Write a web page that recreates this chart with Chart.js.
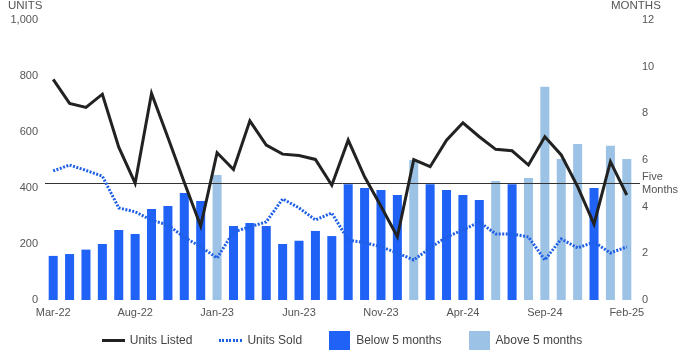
<!DOCTYPE html>
<html>
<head>
<meta charset="utf-8">
<script src="https://cdn.jsdelivr.net/npm/chart.js@4.4.1/dist/chart.umd.min.js"></script>
<style>
html,body{margin:0;padding:0;background:#fff;}
#wrap{position:relative;width:700px;height:350px;overflow:hidden;font-family:"Liberation Sans",Arial,sans-serif;}
#c{position:absolute;left:0;top:0;}
#legend{position:absolute;left:0;top:330px;width:684px;height:20px;display:flex;justify-content:center;align-items:center;font-size:12px;color:#444;white-space:nowrap;}
.item{display:flex;align-items:center;}
.item + .item{margin-left:27px;}
.ln{width:23px;height:3px;background:#222;margin-right:5px;}
.dot{width:23px;height:3px;margin-right:5px;background:repeating-linear-gradient(90deg,#1f5fe6 0 2px,transparent 2px 3.5px);}
.box{width:21px;height:19px;margin-right:6px;}
</style>
</head>
<body>
<div id="wrap">
<canvas id="c" width="700" height="350"></canvas>
<div id="legend"></div>
</div>
<script>
// ---- Data ----
const months = ['Mar-22','Apr-22','May-22','Jun-22','Jul-22','Aug-22','Sep-22','Oct-22','Nov-22','Dec-22',
  'Jan-23','Feb-23','Mar-23','Apr-23','May-23','Jun-23','Jul-23','Aug-23','Sep-23','Oct-23','Nov-23','Dec-23',
  'Jan-24','Feb-24','Mar-24','Apr-24','May-24','Jun-24','Jul-24','Aug-24','Sep-24','Oct-24','Nov-24','Dec-24',
  'Jan-25','Feb-25'];
const unitsListed = [788,702,688,735,546,417,738,580,420,264,526,466,640,553,521,516,502,410,571,440,335,226,
  501,476,571,633,583,538,533,482,583,518,405,271,494,375];
const unitsSold = [461,482,463,442,329,315,285,268,224,190,150,243,261,279,361,329,286,311,214,205,190,168,
  143,186,225,250,279,236,236,225,143,218,186,207,168,190];
const monthsSupply = [1.89,1.97,2.16,2.4,3.0,2.83,3.9,4.03,4.59,4.24,5.36,3.17,3.3,3.17,2.4,2.54,2.96,2.74,
  4.96,4.8,4.71,4.5,6.0,4.96,4.71,4.5,4.29,5.1,4.96,5.23,9.14,6.04,6.69,4.8,6.61,6.04];
const threshold = 5;
const shownLabels = ['Mar-22','Aug-22','Jan-23','Jun-23','Nov-23','Apr-24','Sep-24','Feb-25'];
const unitTicks = [0,200,400,600,800,1000];
const monthTicks = [0,2,4,6,8,10,12];
const seriesNames = ['Units Listed','Units Sold','Below 5 months','Above 5 months'];
const colors = {listed:'#222222', sold:'#1f5fe6', below:'#1f62f5', above:'#9cc3e6', text:'#555555'};

const belowVals = monthsSupply.map(v => v < threshold ? v : null);
const aboveVals = monthsSupply.map(v => v >= threshold ? v : null);

const FONT = '"Liberation Sans", Arial, sans-serif';

const decor = {
  id: 'decor',
  afterDatasetDraw(chart, args) {
    if (args.index !== 3) return;
    const ctx = chart.ctx, yR = chart.scales.yR, a = chart.chartArea;
    const y = Math.round(yR.getPixelForValue(threshold)) + 0.5;
    ctx.save();
    ctx.strokeStyle = '#333';
    ctx.lineWidth = 1;
    ctx.beginPath();
    ctx.moveTo(a.left, y);
    ctx.lineTo(a.right + 5, y);
    ctx.stroke();
    ctx.restore();
  },
  afterDraw(chart) {
    const ctx = chart.ctx, a = chart.chartArea, yR = chart.scales.yR;
    ctx.save();
    ctx.fillStyle = colors.text;
    ctx.font = '11.5px ' + FONT;
    ctx.textBaseline = 'alphabetic';
    ctx.textAlign = 'left';
    ctx.fillText('UNITS', 8, 9);
    ctx.fillText('MONTHS', 611, 9);
    ctx.font = '11px ' + FONT;
    ctx.textBaseline = 'middle';
    const y5 = yR.getPixelForValue(threshold);
    ctx.fillText('Five', a.right + 7, y5 - 6);
    ctx.fillText('Months', a.right + 7, y5 + 7);
    ctx.restore();
  }
};

new Chart(document.getElementById('c'), {
  data: {
    labels: months,
    datasets: [
      {type:'line', label: seriesNames[0], data: unitsListed, yAxisID:'yL', borderColor: colors.listed,
        borderWidth: 3, pointRadius: 0, tension: 0, order: 1},
      {type:'line', label: seriesNames[1], data: unitsSold, yAxisID:'yL', borderColor: colors.sold,
        borderWidth: 3, borderDash:[2,1.5], pointRadius: 0, tension: 0, order: 2},
      {type:'bar', label: seriesNames[2], data: belowVals, yAxisID:'yR', backgroundColor: colors.below,
        grouped:false, barPercentage:0.55, categoryPercentage:1, order: 4},
      {type:'bar', label: seriesNames[3], data: aboveVals, yAxisID:'yR', backgroundColor: colors.above,
        grouped:false, barPercentage:0.55, categoryPercentage:1, order: 3}
    ]
  },
  options: {
    responsive:false,
    animation:false,
    layout:{padding:{top:20,left:0,right:0,bottom:0}},
    plugins:{legend:{display:false}, tooltip:{enabled:false}},
    scales:{
      x:{
        offset:true,
        grid:{display:false, drawTicks:false},
        border:{display:false},
        ticks:{autoSkip:false, maxRotation:0, minRotation:0, padding:6, color:colors.text,
          font:{family:FONT,size:11},
          callback(v){ const l = months[v]; return shownLabels.includes(l) ? l : ''; }},
        afterFit(s){ s.height = 50; }
      },
      yL:{
        position:'left', min:0, max:1000,
        grid:{display:false, drawTicks:false},
        border:{display:false},
        afterBuildTicks(s){ s.ticks = unitTicks.map(v => ({value:v})); },
        ticks:{padding:7, color:colors.text, font:{family:FONT,size:11},
          callback(v){ return v.toLocaleString('en-US'); }},
        afterFit(s){ s.width = 45; }
      },
      yR:{
        position:'right', min:0, max:12,
        grid:{display:false, drawTicks:false},
        border:{display:false},
        afterBuildTicks(s){ s.ticks = monthTicks.map(v => ({value:v})); },
        ticks:{padding:7, color:colors.text, font:{family:FONT,size:11}},
        afterFit(s){ s.width = 65; }
      }
    }
  },
  plugins:[decor]
});

// HTML legend built from series names
const legend = document.getElementById('legend');
const swatches = ['<span class="ln"></span>', '<span class="dot"></span>',
  '<span class="box" style="background:'+colors.below+'"></span>',
  '<span class="box" style="background:'+colors.above+'"></span>'];
seriesNames.forEach((n,i) => {
  const d = document.createElement('div');
  d.className = 'item';
  d.innerHTML = swatches[i] + '<span>' + n + '</span>';
  legend.appendChild(d);
});
</script>
</body>
</html>
